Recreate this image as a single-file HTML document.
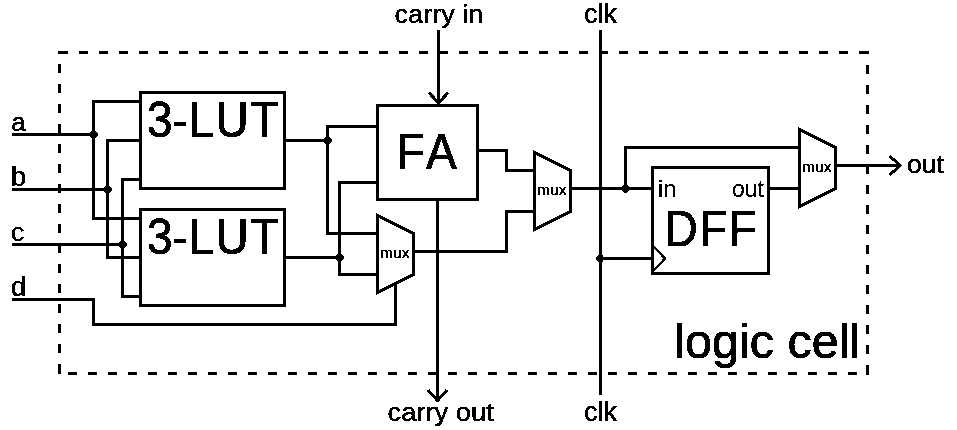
<!DOCTYPE html>
<html lang="en">
<head>
<meta charset="utf-8">
<title>logic cell</title>
<style>
html,body{margin:0;padding:0;background:#fff;}
body{width:957px;height:430px;overflow:hidden;}
svg{display:block;}
svg text{font-family:"Liberation Sans",sans-serif;fill:#000;stroke:#000;stroke-width:0.45px;stroke-linejoin:round;font-kerning:none;}
svg text.big{stroke-width:0.9px;}
svg text.sm{stroke-width:0.2px;}
svg text.mx{stroke-width:0.4px;}
.w path,.w rect{fill:none;stroke:#000;stroke-width:3;stroke-linejoin:miter;stroke-linecap:butt;}
.w .thin{stroke-width:2.4;}
.w .dot{fill:#000;stroke:none;shape-rendering:crispEdges;}
.d path{fill:none;stroke:#000;stroke-width:3;stroke-dasharray:9 11;}
.d path.s{stroke-dasharray:none;}
</style>
</head>
<body>
<svg width="957" height="430" viewBox="0 0 957 430">
<defs><filter id="bw" x="0" y="0" width="957" height="430" filterUnits="userSpaceOnUse" color-interpolation-filters="sRGB"><feComponentTransfer><feFuncA type="discrete" tableValues="0 1"/></feComponentTransfer></filter></defs>
<rect width="957" height="430" fill="#fff"/>
<g class="d" shape-rendering="crispEdges">
<path d="M79 52.5 H859"/>
<path d="M68 373.5 H860"/>
<path d="M59.5 64 V360"/>
<path d="M867.5 65 V360"/>
<path class="s" d="M58 52.5 H68 M859 52.5 H869 M59.5 364 V374 M867.5 365 V375"/>
</g>
<g class="w" filter="url(#bw)">
<path d="M12 134.5 L93.5 134.5"/>
<path d="M12 189.5 L107.5 189.5"/>
<path d="M12 244.5 L122.5 244.5"/>
<path d="M12 299.5 L93.5 299.5 L93.5 324.5 L395.5 324.5 L395.5 284"/>
<path d="M140 101.5 L93.5 101.5 L93.5 218.5 L140 218.5"/>
<path d="M140 140.5 L107.5 140.5 L107.5 257.5 L140 257.5"/>
<path d="M140 179.5 L122.5 179.5 L122.5 296.5 L140 296.5"/>
<path class="dot" d="M91.0 131.0h5v1h1v1h1v3h-1v1h-1v1h-5v-1h-1v-5h1z"/>
<path class="dot" d="M105.0 186.0h5v1h1v1h1v3h-1v1h-1v1h-5v-1h-1v-5h1z"/>
<path class="dot" d="M120.0 241.0h5v1h1v1h1v3h-1v1h-1v1h-5v-1h-1v-5h1z"/>
<rect x="140.5" y="92.5" width="144.0" height="96.0"/>
<rect x="140.5" y="209.5" width="144.0" height="96.0"/>
<path d="M284.5 140.5 L327.5 140.5"/>
<path d="M378 126.5 L327.5 126.5 L327.5 233.5 L378 233.5"/>
<path class="dot" d="M325.0 137.0h5v1h1v1h1v3h-1v1h-1v1h-5v-1h-1v-5h1z"/>
<path d="M285.5 257.5 L339.5 257.5"/>
<path d="M378 182.5 L339.5 182.5 L339.5 274.5 L378 274.5"/>
<path class="dot" d="M337.0 254.0h5v1h1v1h1v3h-1v1h-1v1h-5v-1h-1v-5h1z"/>
<rect x="377.5" y="105.5" width="100.0" height="94.0"/>
<path d="M438.5 30 L438.5 104"/>
<path d="M429 92.7 L438.5 103 L448 92.7"/>
<path d="M437.5 200 L437.5 401"/>
<path d="M428 390 L437.5 400.5 L447 390"/>
<path d="M477.5 150.5 L506.5 150.5 L506.5 170.5 L535 170.5"/>
<path d="M413 251.5 L506.5 251.5 L506.5 211.5 L535 211.5"/>
<path d="M377.5 215.5 L413.5 233.5 L413.5 274.5 L377.5 292.5 Z"/>
<path d="M534.5 152.5 L570.5 170.5 L570.5 211.5 L534.5 229.5 Z"/>
<path d="M799.5 129.5 L835.5 147.5 L835.5 188.5 L799.5 206.5 Z"/>
<path d="M570.5 188.5 L653 188.5"/>
<path d="M625.5 188.5 L625.5 147.5 L800 147.5"/>
<path class="dot" d="M623.0 185.0h5v1h1v5h-1v1h-1v1h-3v-1h-1v-1h-1v-5h1z"/>
<path d="M600.5 30 L600.5 394.5"/>
<path d="M600.5 258.5 L653 258.5"/>
<path class="dot" d="M598.0 255.0h5v7h-5v-1h-1v-1h-1v-3h1v-1h1z"/>
<rect x="652.5" y="167.5" width="116.0" height="106.0"/>
<path class="thin" d="M653 245.8 L665 258.5 L653 271.2"/>
<path d="M768.5 188.5 L800 188.5"/>
<path d="M835.5 165.5 L901 165.5"/>
<path d="M889.7 156 L900 165.5 L889.7 175"/>
</g>
<g class="t" filter="url(#bw)">
<text x="11" y="130.6" font-size="26.5">a</text>
<text x="11" y="185.6" font-size="27">b</text>
<text x="11" y="240.6" font-size="26.5">c</text>
<text x="11" y="295.6" font-size="27">d</text>
<text x="394.5" y="22.6" font-size="26.5" textLength="88.9" lengthAdjust="spacingAndGlyphs">carry in</text>
<text x="584" y="22.6" font-size="27">clk</text>
<text x="387.5" y="420.6" font-size="26.5" textLength="106.4" lengthAdjust="spacingAndGlyphs">carry out</text>
<text x="584" y="420.6" font-size="27">clk</text>
<text x="907" y="172.6" font-size="26.5">out</text>
<text x="674.2" y="358" font-size="48.5" class="big">logic cell</text>
<text transform="translate(147 136.6) scale(0.93 1)" font-size="49.5" dx="0 -0.5 1.5 1 1.9" class="big">3-LUT</text>
<text transform="translate(147 254.1) scale(0.93 1)" font-size="49.5" dx="0 -0.5 1.5 1 1.9" class="big">3-LUT</text>
<text transform="translate(396.5 168.6) scale(0.93 1)" font-size="49.5" dx="0 1.6" class="big">FA</text>
<text transform="translate(664.5 245.6) scale(0.93 1)" font-size="49.5" dx="0 1.5 1.5" class="big">DFF</text>
<text x="658" y="197" font-size="24" class="sm">in</text>
<text x="732" y="197" font-size="23" class="sm">out</text>
<text x="380" y="258" font-size="15" textLength="29.5" lengthAdjust="spacingAndGlyphs" class="mx">mux</text>
<text x="537" y="195" font-size="15" textLength="29.5" lengthAdjust="spacingAndGlyphs" class="mx">mux</text>
<text x="802" y="172" font-size="15" textLength="29.5" lengthAdjust="spacingAndGlyphs" class="mx">mux</text>
</g>
</svg>
</body>
</html>
